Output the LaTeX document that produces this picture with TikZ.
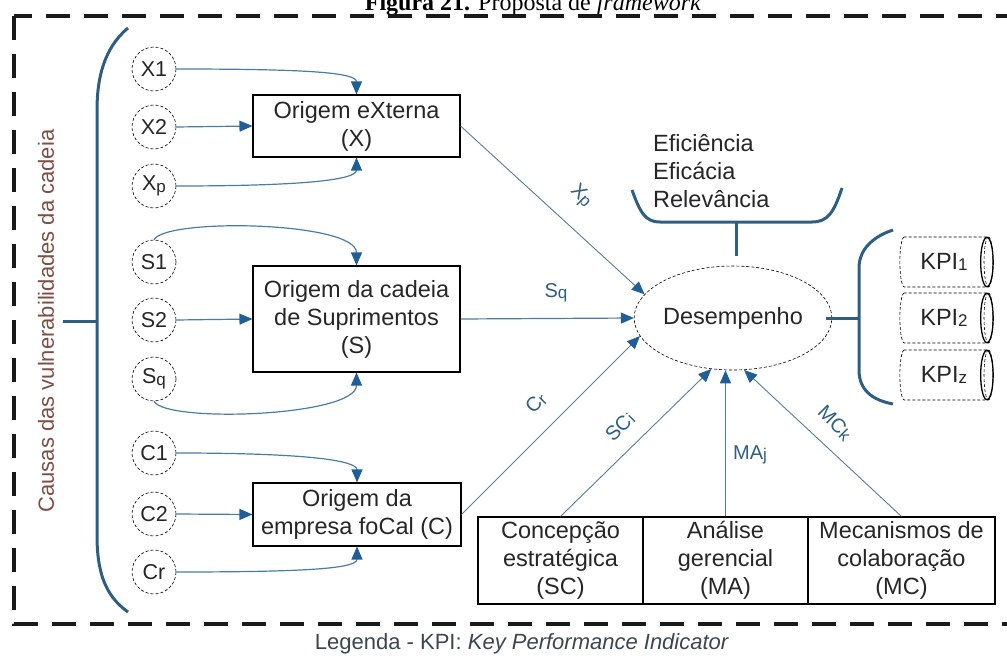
\documentclass[tikz,border=0pt]{standalone}
\usepackage{fontspec}
\setmainfont{Liberation Sans}
\newfontfamily\seriffont{Liberation Serif}
\usetikzlibrary{shapes.geometric,arrows.meta,calc}

\definecolor{linkblue}{HTML}{4A7DA6}
\definecolor{thinlink}{HTML}{557D9C}
\definecolor{tipblue}{HTML}{1F5E96}
\definecolor{bracketblue}{HTML}{2E5F82}
\definecolor{causebrown}{HTML}{7D4E42}
\definecolor{inkgray}{HTML}{262626}
\definecolor{legendgray}{HTML}{3C4650}

% smaller, slightly lowered index letter
\newcommand\lsub[1]{\raisebox{-1.5pt}{\fontsize{17}{17}\selectfont #1}}

\begin{document}
\begin{tikzpicture}[x=1pt,y=-1pt,
  every node/.style={font=\fontsize{23.5}{28}\selectfont, text=inkgray},
  cause/.style={circle, draw=black, densely dashed, line width=0.6pt,
    minimum size=44pt, inner sep=0pt, font=\fontsize{21.5}{24}\selectfont},
  originbox/.style={draw=black, line width=1.1pt, align=center, inner sep=0pt},
  mgmtbox/.style={draw=black, line width=1.1pt, align=center, inner sep=0pt,
    minimum height=87pt},
  kpi/.style={cylinder, draw=black, densely dashed, line width=0.6pt,
    minimum width=50pt, minimum height=93pt, aspect=0.5, inner sep=0pt},
  kpiend/.style={draw=black, line width=1.3pt},
  flow/.style={draw=linkblue, line width=1.2pt,
    -{Triangle[length=13pt,width=11pt,color=tipblue]}},
  thinflow/.style={flow, draw=thinlink, line width=0.9pt},
  bracket/.style={draw=bracketblue, line width=3pt},
  lbl/.style={text=bracketblue, font=\fontsize{20}{24}\selectfont},
  frame/.style={draw=black!90, line width=3.5pt, dash pattern=on 24pt off 14pt}
]
\useasboundingbox (0,0) rectangle (1007,658);
\begin{scope}
\clip (0,0) rectangle (1007,658);

% heading, partly above the page edge
\node[font=\seriffont\fontsize{24}{24}\selectfont, text=black, anchor=base]
  (title) at (533,11) {\textbf{Figura 21.} Proposta de \textit{framework}};

% dashed outer frame
\draw[frame] (14,16) rectangle (1030,624);

% left bracket grouping all causes
\draw[bracket] (128,28) .. controls (104,48) and (97,78) .. (97,110)
  -- (97,535) .. controls (97,570) and (104,595) .. (128,612);
\coordinate (lbr) at (97,321);
\draw[bracket] (lbr) -- ++(-34,0);
\node[rotate=90, text=causebrown, font=\fontsize{22}{27}\selectfont]
  (causas) at (46,321) {Causas das vulnerabilidades da cadeia};

% cause circles
\node[cause] (x1) at (154,69)  {X1};
\node[cause] (x2) at (154,127) {X2};
\node[cause] (xp) at (154,186) {X\lsub{p}};
\node[cause] (s1) at (154,262) {S1};
\node[cause] (s2) at (154,320) {S2};
\node[cause] (sq) at (154,379) {S\lsub{q}};
\node[cause] (c1) at (154,453) {C1};
\node[cause] (c2) at (154,514) {C2};
\node[cause] (cr) at (154,572) {Cr};

% origin boxes
\node[originbox, minimum width=207pt, minimum height=62pt] (bx) at (356.5,126)
  {Origem eXterna\\(X)};
\node[originbox, minimum width=207pt, minimum height=106pt] (bs) at (356.5,319)
  {Origem da cadeia\\de Suprimentos\\(S)};
\node[originbox, minimum width=208pt, minimum height=63pt] (bc) at (357,514.5)
  {Origem da\\empresa foCal (C)};

% causes feeding the origin boxes
\draw[flow] (x1.east) .. controls +(130,0) and +(0,-22) .. (bx.north);
\draw[flow] (x2.east) -- (bx.west);
\draw[flow] (xp.east) .. controls +(130,0) and +(0,22) .. (bx.south);
\draw[flow] (s1.north) .. controls +(12,-22) and +(0,-44) .. (bs.north);
\draw[flow] (s2.east) -- (bs.west);
\draw[flow] (sq.south) .. controls +(12,22) and +(0,44) .. (bs.south);
\draw[flow] (c1.east) .. controls +(130,0) and +(0,-22) .. (bc.north);
\draw[flow] (c2.east) -- (bc.west);
\draw[flow] (cr.east) .. controls +(130,0) and +(0,22) .. (bc.south);

% performance
\node[ellipse, draw=black, densely dashed, line width=0.6pt,
  minimum width=163pt, minimum height=104pt, inner sep=0pt] (des) at (733,318)
  {Desempenho};

% management boxes
\node[mgmtbox, minimum width=165pt] (sc) at (560.5,560.5)
  {Concepção\\estratégica\\(SC)};
\node[mgmtbox, minimum width=165pt] (ma) at (725.5,560.5)
  {Análise\\gerencial\\(MA)};
\node[mgmtbox, minimum width=187pt] (mc) at (901.5,560.5)
  {Mecanismos de\\colaboração\\(MC)};

% links into performance
\draw[thinflow] (bx.east) -- (des.165);
\draw[flow] (bs.east) -- (des.west);
\draw[thinflow] (bc.east) -- (des.191);
\draw[thinflow] (sc.north) -- (des.247);
\draw[flow] (ma.north) -- (ma.north |- des.south);
\draw[thinflow] (mc.north) -- (des.282);

\node[lbl, rotate=-45] (lxp) at (581,196) {X\lsub{p}};
\node[lbl] (lsq) at (556,293) {S\lsub{q}};
\node[lbl, rotate=45] (lcr) at (536,403) {C\lsub{r}};
\node[lbl, rotate=45] (lsc) at (620,427) {SC\lsub{i}};
\node[lbl] (lma) at (750,455) {MA\lsub{j}};
\node[lbl, rotate=-45] (lmc) at (835,423) {MC\lsub{k}};

% criteria brace above performance
\node[align=left, anchor=north west, inner sep=0pt] (crit) at (653,134)
  {Eficiência\\Eficácia\\Relevância};
\draw[bracket] (632,190) .. controls (640,212) and (645,222) .. (660,222)
  -- (812,222) .. controls (828,222) and (834,212) .. (842,188);
\coordinate (cbr) at (736,222);
\draw[bracket] (cbr) -- (cbr |- 0,256);

% indicators
\draw[bracket] (893,230) .. controls (872,237) and (859,250) .. (859,268)
  -- (859,370) .. controls (859,390) and (872,400) .. (893,404);
\coordinate (kbr) at (859,318);
\draw[bracket] (kbr) -- ++(-33,0);
\node[kpi] (k1) at (944,262) {KPI\lsub{1}};
\node[kpi] (k2) at (944,318) {KPI\lsub{2}};
\node[kpi] (k3) at (944,375) {KPI\lsub{z}};
\foreach \k in {k1,k2,k3}
  \draw[kpiend] ($(\k.top)+(-6.25,0)$) ellipse [x radius=6.25pt, y radius=24.7pt];

% legend
\node[text=legendgray, font=\fontsize{22}{26}\selectfont] (leg) at (522,644)
  {Legenda - KPI: \textit{Key Performance Indicator}};
\end{scope}
\end{tikzpicture}
\end{document}
